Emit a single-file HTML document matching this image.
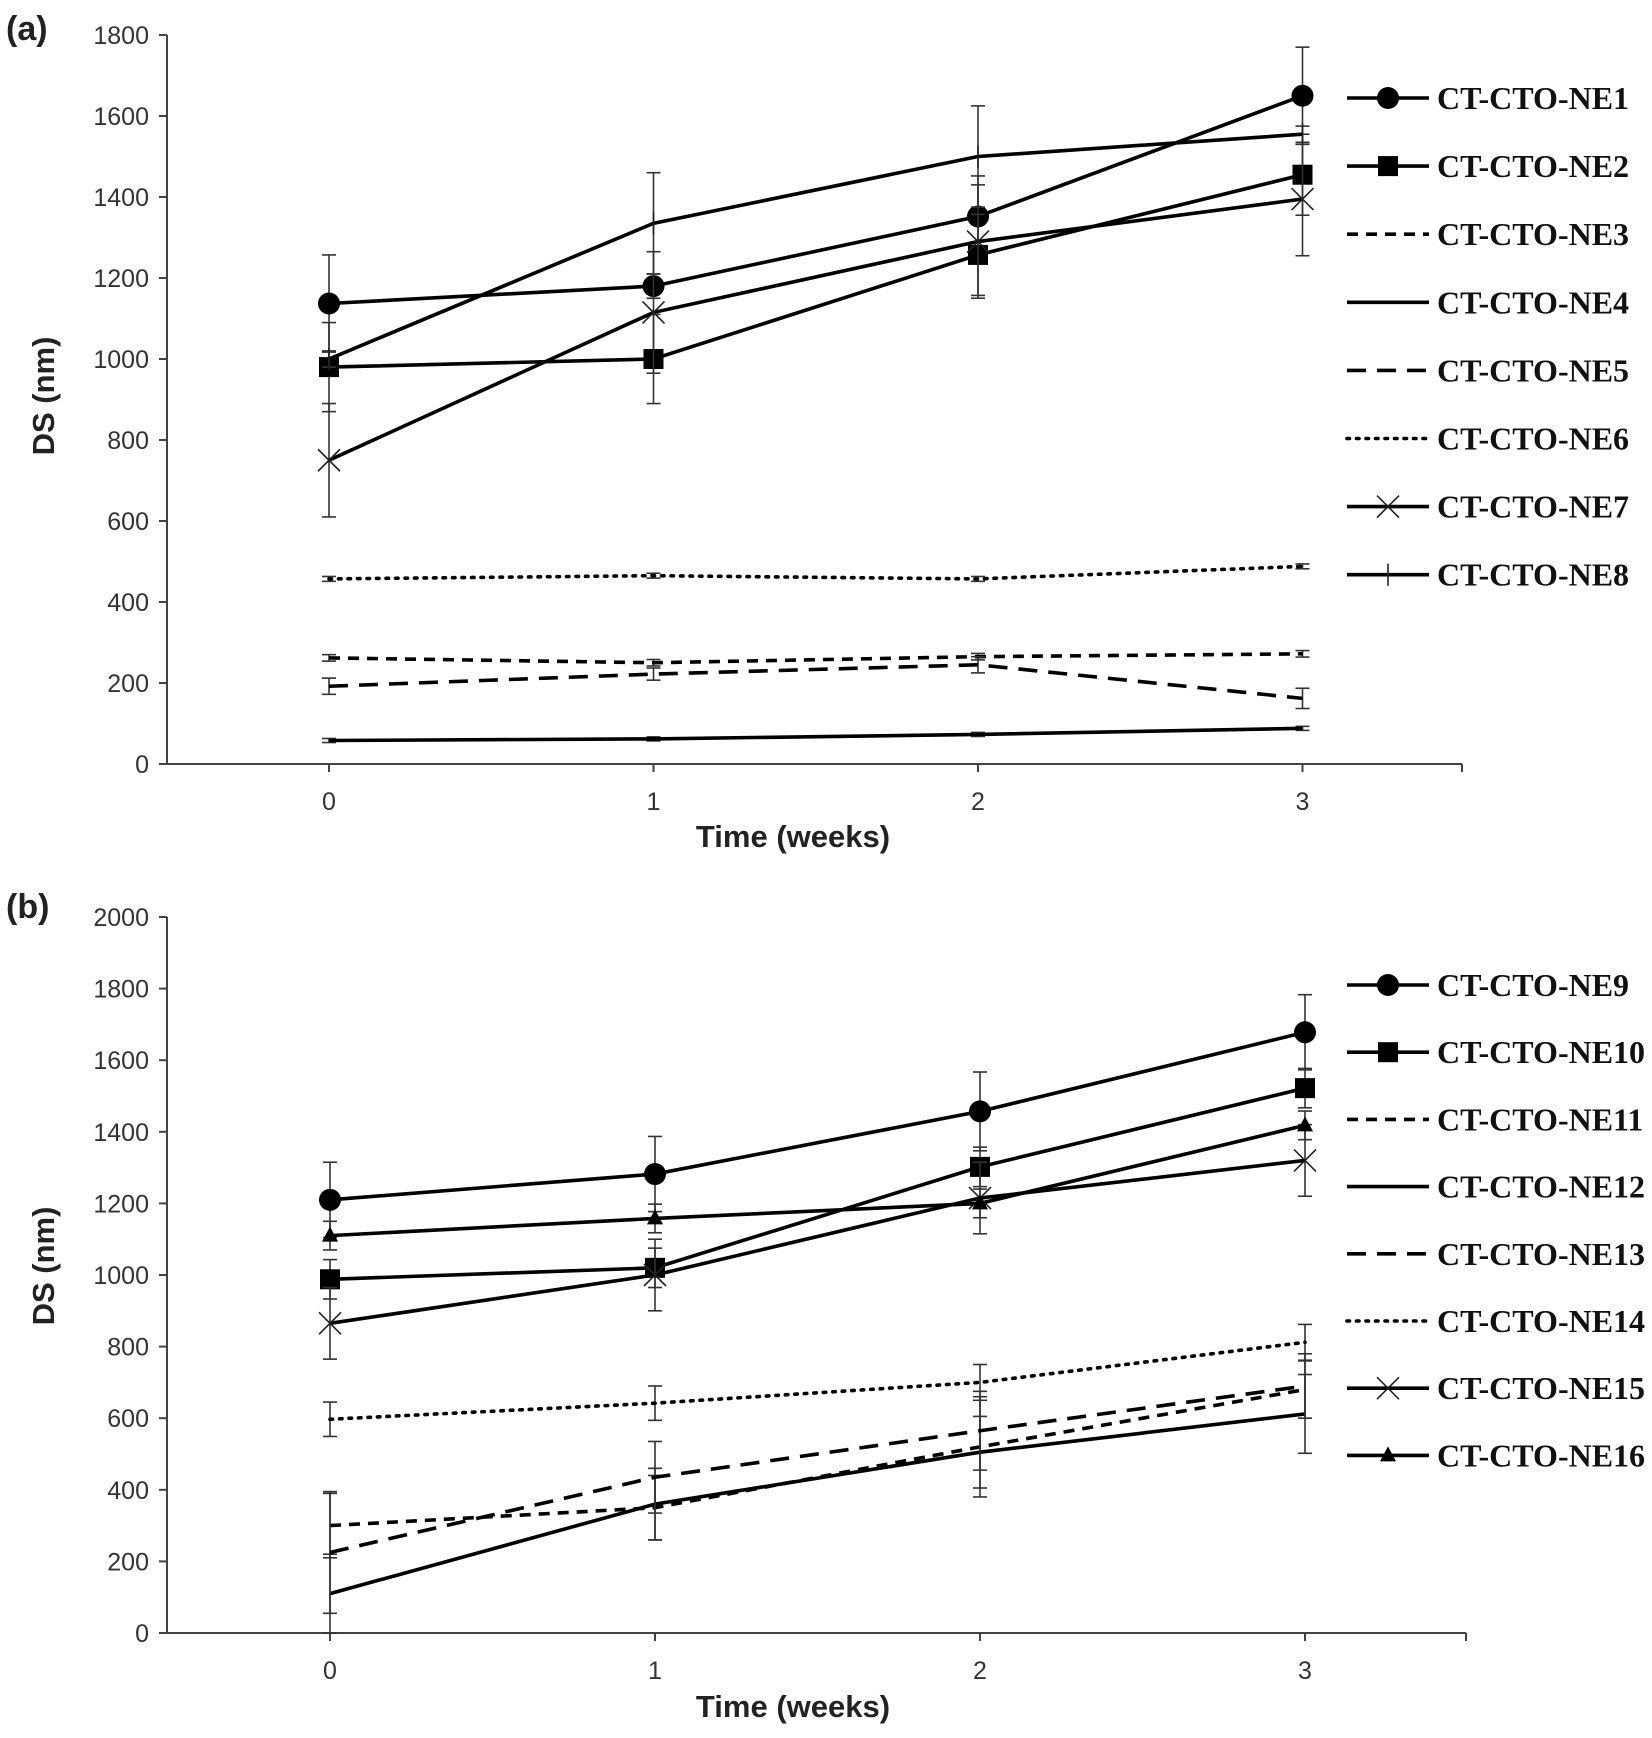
<!DOCTYPE html>
<html><head><meta charset="utf-8"><style>html,body{margin:0;padding:0;background:#fff;width:1652px;height:1738px;overflow:hidden}svg{display:block}</style></head>
<body>
<svg id="s" width="1652" height="1738" viewBox="0 0 1652 1738" xmlns="http://www.w3.org/2000/svg"></svg>
<script>
var s=document.getElementById('s'),h='';
function L(x1,y1,x2,y2,w,c,extra){h+='<line x1="'+x1+'" y1="'+y1+'" x2="'+x2+'" y2="'+y2+'" stroke="'+(c||'#000')+'" stroke-width="'+w+'" '+(extra||'')+'/>';}
function T(x,y,t,st){h+='<text x="'+x+'" y="'+y+'" '+st+'>'+t+'</text>';}
var dash={solid:'',sd:'stroke-dasharray="11 8"',ld:'stroke-dasharray="19 11"',dot:'stroke-dasharray="2.5 7" stroke-linecap="round"'};
function marker(m,x,y){
 if(m=='c')h+='<circle cx="'+x+'" cy="'+y+'" r="11" fill="#000"/>';
 else if(m=='s')h+='<rect x="'+(x-10)+'" y="'+(y-10)+'" width="20" height="20" fill="#000"/>';
 else if(m=='x'){L(x-11,y-11,x+11,y+11,1.6,'#222');L(x-11,y+11,x+11,y-11,1.6,'#222');}
 else if(m=='p'){L(x,y-11,x,y+11,1.6,'#222');}
 else if(m=='t')h+='<polygon points="'+x+','+(y-9)+' '+(x+8)+','+(y+6)+' '+(x-8)+','+(y+6)+'" fill="#000"/>';
}
function panel(o){
 var ax=167,x0=o.x0,dx=o.dx,yT=o.yT,y0=o.y0,max=o.max,xe=o.xe;
 function Y(v){return y0-(y0-yT)*v/max;}
 L(ax,yT,ax,y0,2,'#444');L(ax,y0,xe,y0,2,'#444');L(xe,y0,xe,y0+8,2,'#444');
 for(var v=0;v<=max;v+=200){L(ax-8,Y(v),ax,Y(v),2,'#444');T(ax-18,Y(v)+9,v,'font-family="Liberation Sans",sans-serif font-size="25" fill="#333" text-anchor="end"');}
 for(var i=0;i<4;i++){var x=x0+dx*i;L(x,y0,x,y0+8,2,'#444');T(x,y0+46,i,'font-family="Liberation Sans",sans-serif font-size="25" fill="#333" text-anchor="middle"');}
 T(o.tx,o.ty,'Time (weeks)','font-family="Liberation Sans",sans-serif font-size="31" font-weight="bold" fill="#222" text-anchor="middle"');
 h+='<text transform="translate(54,'+o.dy+') rotate(-90)" font-family="Liberation Sans",sans-serif font-size="31" font-weight="bold" fill="#222" text-anchor="middle">DS (nm)</text>';
 T(6,o.ly,o.lab,'font-family="Liberation Sans",sans-serif font-size="34" font-weight="bold" fill="#222"');
 o.series.forEach(function(sr){
  var pts=sr.v.map(function(v,i){return [x0+dx*i,Y(v)];});
  sr.e.forEach(function(e,i){var x=pts[i][0],a=Y(sr.v[i]+e),b=Y(sr.v[i]-e);L(x,a,x,b,1.6,'#333');L(x-7,a,x+7,a,1.6,'#333');L(x-7,b,x+7,b,1.6,'#333');});
  h+='<polyline fill="none" stroke="#000" stroke-width="3.6" '+dash[sr.d]+' points="'+pts.map(function(p){return p.join(',')}).join(' ')+'"/>';
  if(sr.m)pts.forEach(function(p){marker(sr.m,p[0],p[1]);});
 });
 o.series.forEach(function(sr,k){
  var y=o.lg0+o.lgs*k;
  L(1347,y,1429,y,3.6,'#000',dash[sr.d]);
  if(sr.m)marker(sr.m,1388,y);
  T(1437,y+11,sr.n,'font-family="Liberation Serif",serif font-size="32" font-weight="bold" fill="#111"');
 });
}
panel({x0:329,dx:324.5,yT:35,y0:764,max:1800,xe:1462,tx:793,ty:847,dy:396,ly:40,lab:'(a)',lg0:98,lgs:68.1,series:[
 {n:'CT-CTO-NE1',m:'c',d:'solid',v:[1137,1180,1352,1650],e:[120,30,100,120]},
 {n:'CT-CTO-NE2',m:'s',d:'solid',v:[980,1000,1257,1455],e:[110,110,100,100]},
 {n:'CT-CTO-NE3',m:'',d:'sd',v:[262,250,265,272],e:[8,8,8,8]},
 {n:'CT-CTO-NE4',m:'',d:'solid',v:[58,62,73,88],e:[5,5,5,5]},
 {n:'CT-CTO-NE5',m:'',d:'ld',v:[192,222,245,162],e:[20,15,20,25]},
 {n:'CT-CTO-NE6',m:'',d:'dot',v:[457,465,457,488],e:[6,6,6,6]},
 {n:'CT-CTO-NE7',m:'x',d:'solid',v:[750,1115,1290,1395],e:[140,150,140,140]},
 {n:'CT-CTO-NE8',m:'p',d:'solid',v:[1000,1335,1500,1555],e:[20,125,125,20]}
]});
panel({x0:330,dx:325,yT:917,y0:1633,max:2000,xe:1466,tx:793,ty:1717,dy:1266,ly:918,lab:'(b)',lg0:985,lgs:67.2,series:[
 {n:'CT-CTO-NE9',m:'c',d:'solid',v:[1210,1282,1457,1678],e:[105,105,110,105]},
 {n:'CT-CTO-NE10',m:'s',d:'solid',v:[988,1020,1302,1522],e:[55,55,55,55]},
 {n:'CT-CTO-NE11',m:'',d:'sd',v:[300,350,520,680],e:[90,90,140,80]},
 {n:'CT-CTO-NE12',m:'',d:'solid',v:[110,360,505,612],e:[110,100,100,110]},
 {n:'CT-CTO-NE13',m:'',d:'ld',v:[225,435,565,690],e:[170,100,110,90]},
 {n:'CT-CTO-NE14',m:'',d:'dot',v:[597,642,700,812],e:[48,48,50,50]},
 {n:'CT-CTO-NE15',m:'x',d:'solid',v:[865,1000,1215,1320],e:[100,100,100,100]},
 {n:'CT-CTO-NE16',m:'t',d:'solid',v:[1110,1158,1200,1418],e:[40,40,40,40]}
]});
s.innerHTML=h;
</script>
</body></html>
